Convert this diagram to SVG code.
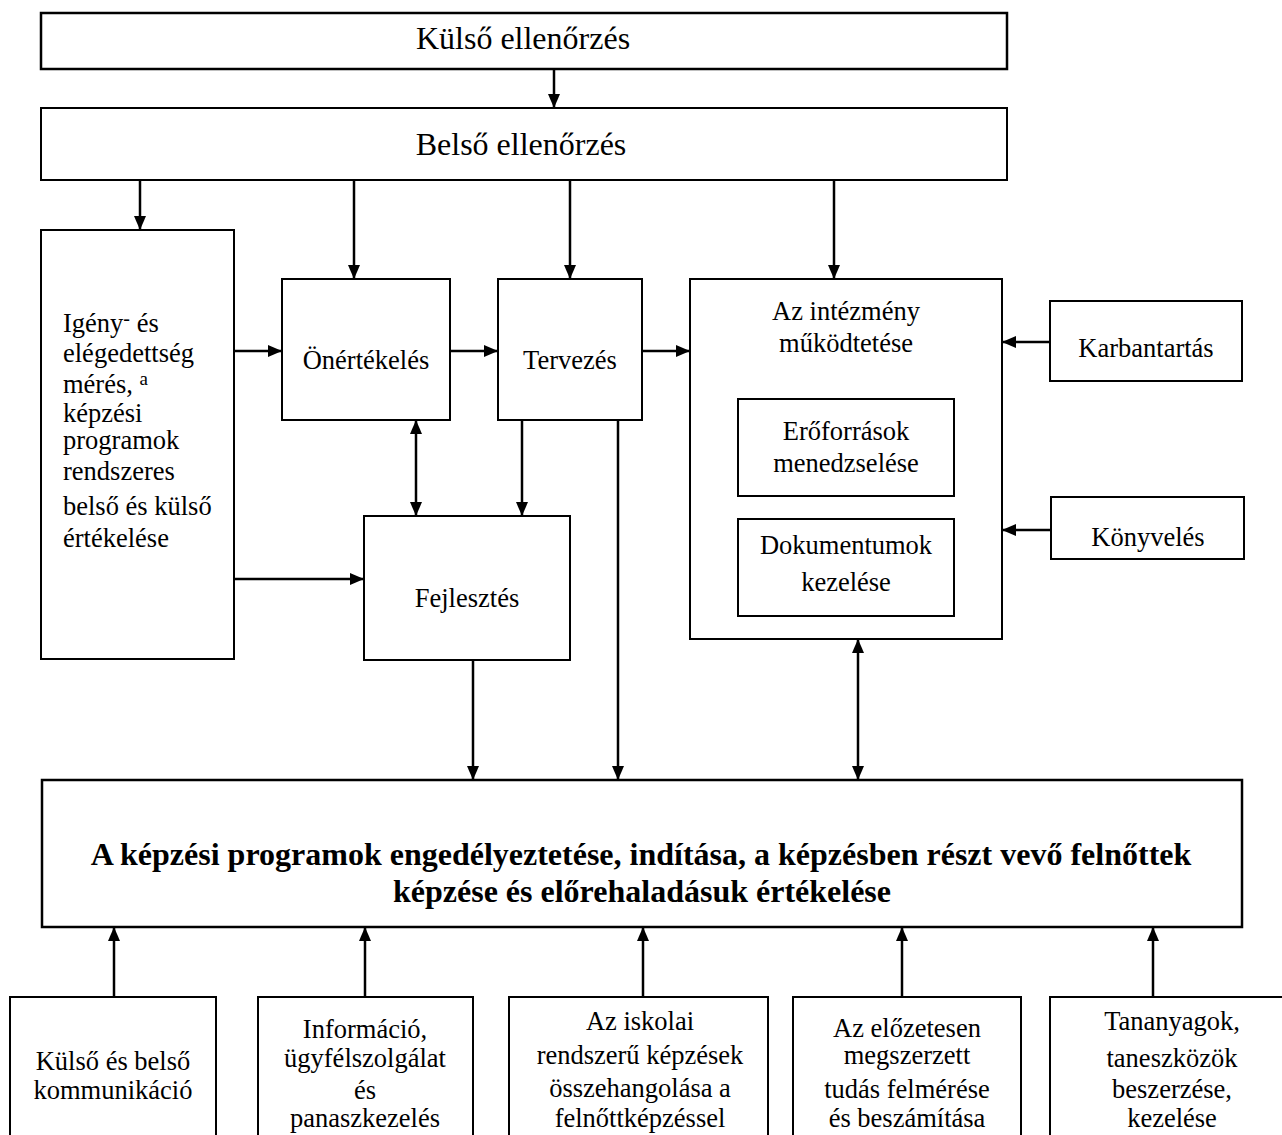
<svg xmlns="http://www.w3.org/2000/svg" width="1282" height="1135" viewBox="0 0 1282 1135">
<style>
.box{fill:#fff;stroke:#000;stroke-width:2}
.t{font-family:"Liberation Serif","Times New Roman",serif;font-size:26.5px;fill:#000;text-anchor:middle}
.tl{font-family:"Liberation Serif","Times New Roman",serif;font-size:26.5px;fill:#000}
.big{font-family:"Liberation Serif","Times New Roman",serif;font-size:32px;fill:#000;text-anchor:middle}
.bold{font-family:"Liberation Serif","Times New Roman",serif;font-size:32px;font-weight:bold;fill:#000;text-anchor:middle}
.c{stroke:#000;stroke-width:2.5;fill:none}
.a{marker-end:url(#ah)}
.d{marker-start:url(#ah);marker-end:url(#ah)}
</style>
<defs>
<marker id="ah" viewBox="0 0 14 12" refX="14" refY="6" markerWidth="14" markerHeight="12" markerUnits="userSpaceOnUse" orient="auto-start-reverse">
<path d="M0,0 L14,6 L0,12 z" fill="#000"/>
</marker>
</defs>
<rect width="1282" height="1135" fill="#fff"/>

<g id="connectors">
<line class="c a" x1="554" y1="69" x2="554" y2="108"/>
<line class="c a" x1="140" y1="180" x2="140" y2="230"/>
<line class="c a" x1="354" y1="180" x2="354" y2="279"/>
<line class="c a" x1="570" y1="180" x2="570" y2="279"/>
<line class="c a" x1="834" y1="180" x2="834" y2="279"/>
<line class="c a" x1="234" y1="351" x2="282" y2="351"/>
<line class="c a" x1="450" y1="351" x2="498" y2="351"/>
<line class="c a" x1="642" y1="351" x2="690" y2="351"/>
<line class="c d" x1="416" y1="420" x2="416" y2="516"/>
<line class="c a" x1="522" y1="420" x2="522" y2="516"/>
<line class="c a" x1="234" y1="579" x2="364" y2="579"/>
<line class="c a" x1="473" y1="660" x2="473" y2="780"/>
<line class="c a" x1="618" y1="420" x2="618" y2="780"/>
<line class="c d" x1="858" y1="639" x2="858" y2="780"/>
<line class="c a" x1="1050" y1="342" x2="1002" y2="342"/>
<line class="c a" x1="1051" y1="530" x2="1002" y2="530"/>
<line class="c a" x1="114" y1="997" x2="114" y2="927"/>
<line class="c a" x1="365" y1="997" x2="365" y2="927"/>
<line class="c a" x1="643" y1="997" x2="643" y2="927"/>
<line class="c a" x1="902" y1="997" x2="902" y2="927"/>
<line class="c a" x1="1153" y1="997" x2="1153" y2="927"/>
</g>

<g id="kulso">
<rect class="box" x="41" y="13" width="966" height="56" style="stroke-width:2.5"/>
<text class="big" x="523" y="49">Külső ellenőrzés</text>
</g>

<g id="belso">
<rect class="box" x="41" y="108" width="966" height="72"/>
<text class="big" x="521" y="155">Belső ellenőrzés</text>
</g>

<g id="igeny">
<rect class="box" x="41" y="230" width="193" height="429"/>
<text class="tl" x="63" y="332">Igény<tspan font-size="20" dy="-7">-</tspan><tspan dy="7"> és</tspan></text>
<text class="tl" x="63" y="362">elégedettség</text>
<text class="tl" x="63" y="393">mérés, <tspan font-size="19" dy="-8">a</tspan></text>
<text class="tl" x="63" y="422">képzési</text>
<text class="tl" x="63" y="449">programok</text>
<text class="tl" x="63" y="480">rendszeres</text>
<text class="tl" x="63" y="515">belső és külső</text>
<text class="tl" x="63" y="547">értékelése</text>
</g>

<g id="onertekeles">
<rect class="box" x="282" y="279" width="168" height="141"/>
<text class="t" x="366" y="369">Önértékelés</text>
</g>

<g id="tervezes">
<rect class="box" x="498" y="279" width="144" height="141"/>
<text class="t" x="570" y="369">Tervezés</text>
</g>

<g id="fejlesztes">
<rect class="box" x="364" y="516" width="206" height="144"/>
<text class="t" x="467" y="607">Fejlesztés</text>
</g>

<g id="intezmeny">
<rect class="box" x="690" y="279" width="312" height="360"/>
<text class="t" x="846" y="320">Az intézmény</text>
<text class="t" x="846" y="352">működtetése</text>
</g>

<g id="eroforrasok">
<rect class="box" x="738" y="399" width="216" height="97"/>
<text class="t" x="846" y="440">Erőforrások</text>
<text class="t" x="846" y="472">menedzselése</text>
</g>

<g id="dokumentumok">
<rect class="box" x="738" y="519" width="216" height="97"/>
<text class="t" x="846" y="554">Dokumentumok</text>
<text class="t" x="846" y="591">kezelése</text>
</g>

<g id="karbantartas">
<rect class="box" x="1050" y="301" width="192" height="80"/>
<text class="t" x="1146" y="357">Karbantartás</text>
</g>

<g id="konyveles">
<rect class="box" x="1051" y="497" width="193" height="62"/>
<text class="t" x="1148" y="546">Könyvelés</text>
</g>

<g id="fo">
<rect class="box" x="42" y="780" width="1200" height="147" style="stroke-width:2.5"/>
<text class="bold" x="641" y="865">A képzési programok engedélyeztetése, indítása, a képzésben részt vevő felnőttek</text>
<text class="bold" x="642" y="902">képzése és előrehaladásuk értékelése</text>
</g>

<g id="kommunikacio">
<rect class="box" x="10" y="997" width="206" height="160"/>
<text class="t" x="113" y="1070">Külső és belső</text>
<text class="t" x="113" y="1099">kommunikáció</text>
</g>

<g id="informacio">
<rect class="box" x="258" y="997" width="215" height="160"/>
<text class="t" x="365" y="1038">Információ,</text>
<text class="t" x="365" y="1067">ügyfélszolgálat</text>
<text class="t" x="365" y="1099">és</text>
<text class="t" x="365" y="1127">panaszkezelés</text>
</g>

<g id="iskolai">
<rect class="box" x="509" y="997" width="259" height="160"/>
<text class="t" x="640" y="1030">Az iskolai</text>
<text class="t" x="640" y="1064">rendszerű képzések</text>
<text class="t" x="640" y="1097">összehangolása a</text>
<text class="t" x="640" y="1127">felnőttképzéssel</text>
</g>

<g id="elozetes">
<rect class="box" x="793" y="997" width="228" height="160"/>
<text class="t" x="907" y="1037">Az előzetesen</text>
<text class="t" x="907" y="1064">megszerzett</text>
<text class="t" x="907" y="1098">tudás felmérése</text>
<text class="t" x="907" y="1127">és beszámítása</text>
</g>

<g id="tananyagok">
<rect class="box" x="1050" y="997" width="245" height="160"/>
<text class="t" x="1172" y="1030">Tananyagok,</text>
<text class="t" x="1172" y="1067">taneszközök</text>
<text class="t" x="1172" y="1098">beszerzése,</text>
<text class="t" x="1172" y="1127">kezelése</text>
</g>
</svg>
